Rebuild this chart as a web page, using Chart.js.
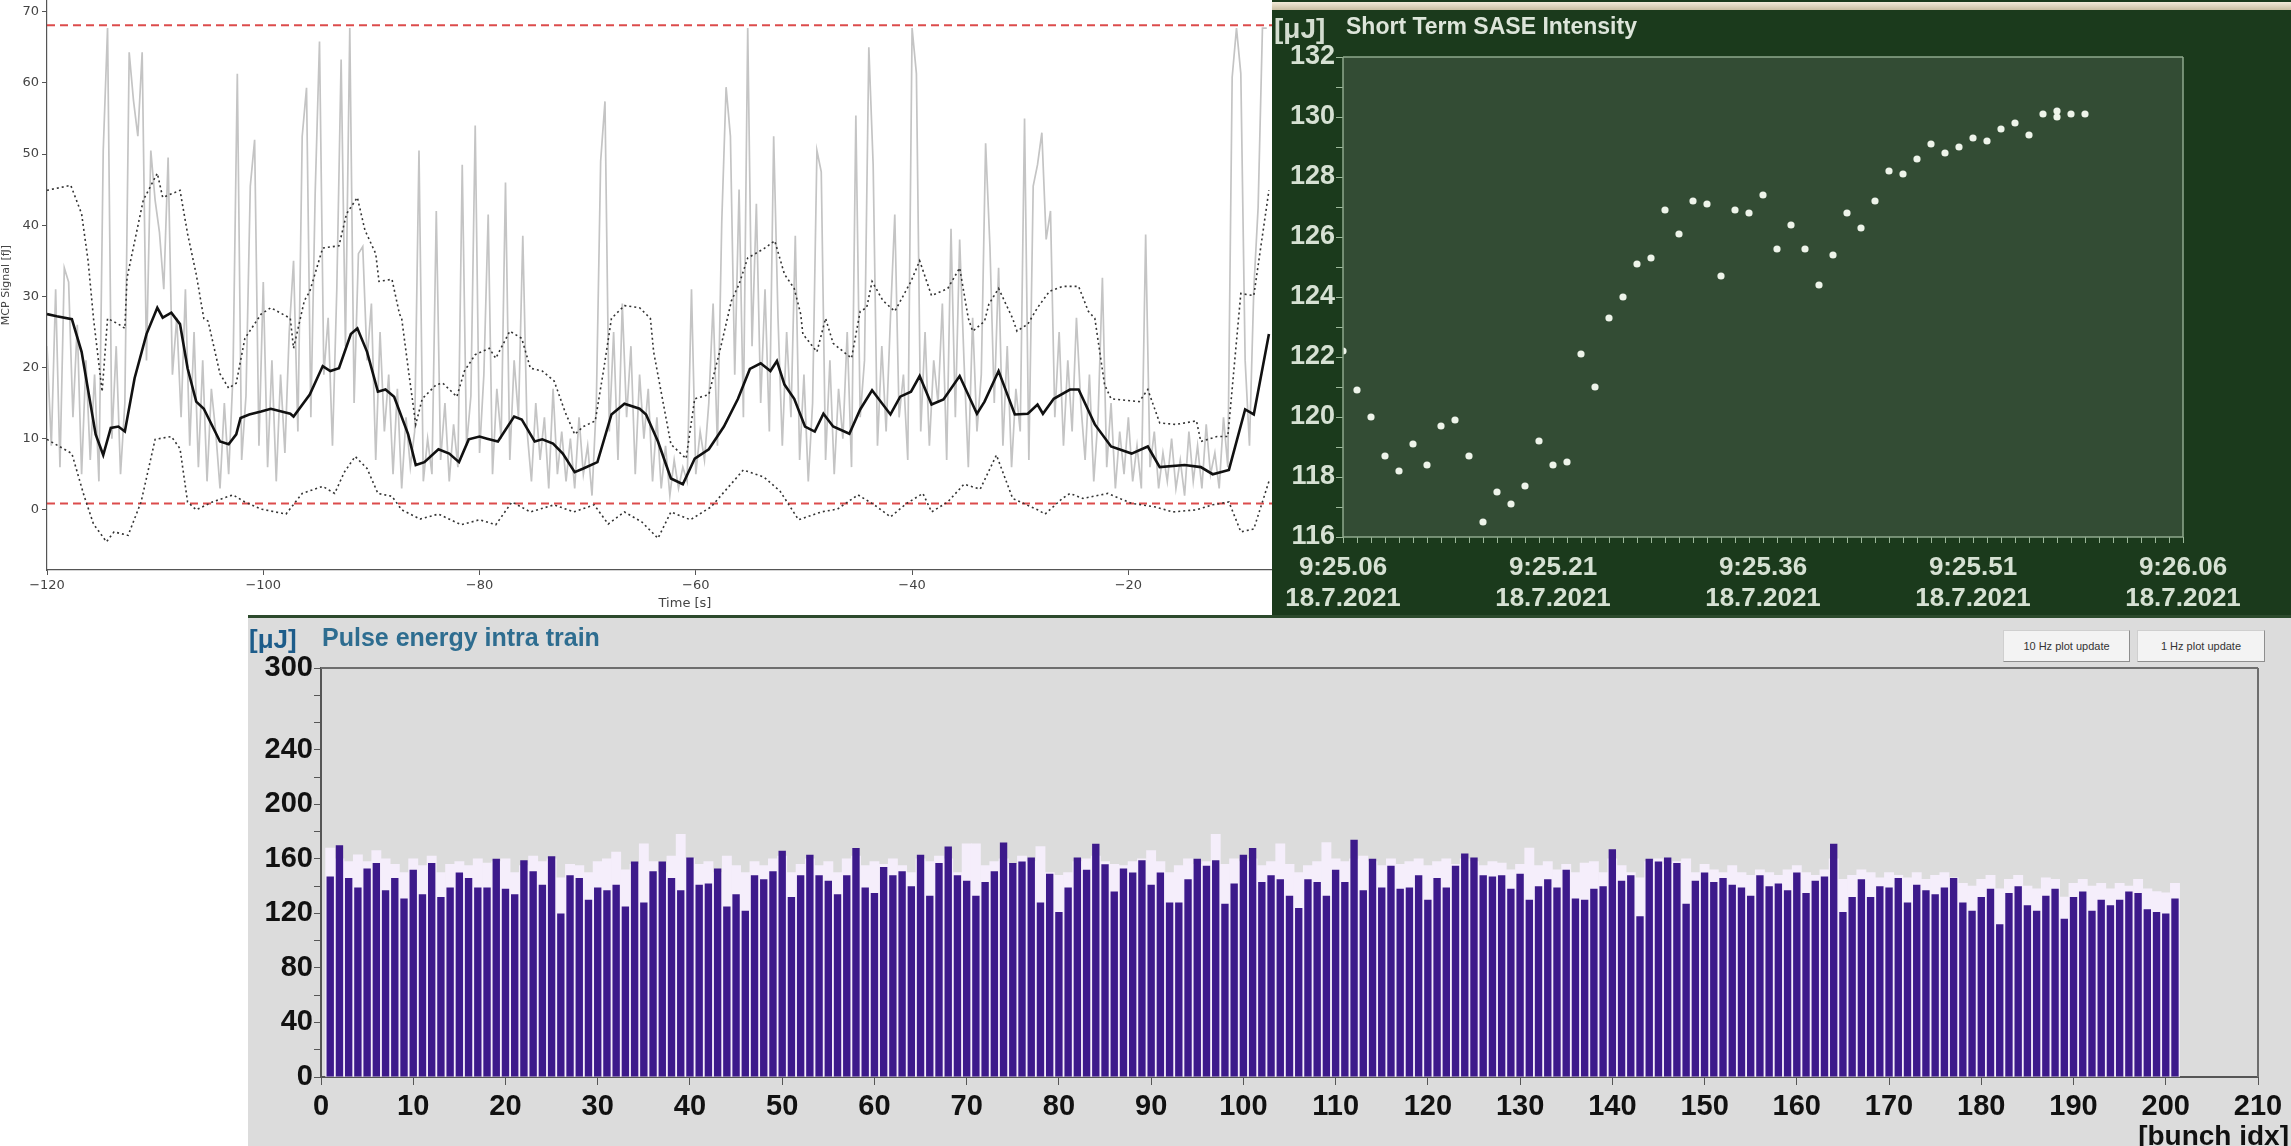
<!DOCTYPE html>
<html>
<head>
<meta charset="utf-8">
<script src="https://cdn.jsdelivr.net/npm/chart.js@4.4.1/dist/chart.umd.min.js"></script>
<style>
  body { margin: 0; width: 2291px; height: 1146px; overflow: hidden; background: #fff; font-family: "Liberation Sans", Arial, sans-serif; }
  #p1 { position: absolute; left: 0; top: 0; width: 1340px; height: 615px; background: #fff; }
  #p2 { position: absolute; left: 1272px; top: 0; width: 1019px; height: 615px; background: #1b3a1c; overflow: hidden; }
  #p2 .strip { position: absolute; left: 0; top: 2px; width: 100%; height: 8px; background: linear-gradient(#f3ead8, #c9bea2); }
  #p3 { position: absolute; left: 248px; top: 615px; width: 2043px; height: 531px; background: #dcdcdc; overflow: hidden; border-top: 3px solid #2c4a2c; box-sizing: border-box; }
  canvas { position: absolute; left: 0; top: 0; }
  .txt { position: absolute; white-space: nowrap; line-height: 1; font-weight: bold; }
  .btn { position: absolute; height: 32px; background: #f3f3f3; border: 1px solid #cfcfcf; border-right-color: #8e8e8e; border-bottom-color: #8e8e8e; font-size: 11px; color: #333; display: flex; align-items: center; justify-content: center; box-sizing: border-box; }
</style>
</head>
<body>
<div id="p1"><canvas id="mcp" width="1340" height="615"></canvas></div>
<div id="p2">
  <div class="strip"></div>
  <canvas id="sase" width="1019" height="615"></canvas>
  <div class="txt" style="left:2px;top:15px;font-size:28px;color:#d3ddd0">[μJ]</div>
  <div class="txt" style="left:74px;top:15px;font-size:23px;color:#dde5da">Short Term SASE Intensity</div>
</div>
<div id="p3">
  <canvas id="pulse" width="2043" height="531" style="top:-3px"></canvas>
  <div class="txt" style="left:1px;top:8px;font-size:26px;color:#1d5c8a">[μJ]</div>
  <div class="txt" style="left:74px;top:7px;font-size:25px;color:#2e6d90">Pulse energy intra train</div>
  <div class="btn" style="left:1755px;top:12px;width:127px">10 Hz plot update</div>
  <div class="btn" style="left:1889px;top:12px;width:128px">1 Hz plot update</div>
  <div class="txt" style="right:2px;top:504px;font-size:28px;color:#111">[bunch idx]</div>
</div>
<script>
// ---- MCP signal (top left) ----
const rawStart = -120;
const rawStep = 0.4;
const rawSignal = [
  23, 9, 31, 6, 34, 32, 13, 26, 5, 21,
  7, 19, 4, 50.5, 67.7, 10, 23, 5, 15, 64.3,
  57.5, 52.5, 64.3, 21, 50.5, 43.5, 39, 31, 49.5, 19,
  27, 13, 31, 9, 25, 6, 21, 4, 17, 11,
  3, 15, 5, 19, 61.3, 7, 16, 45.5, 52, 9,
  32, 6, 21, 4, 19, 8, 25, 35, 11, 52.5,
  59.3, 13, 44.5, 65.8, 19, 27, 9, 31, 63.3, 23,
  67.7, 15, 36, 37, 21, 29, 7, 25, 11, 19,
  5, 17, 3, 13, 6, 11, 50.5, 4, 10, 5,
  42, 7, 15, 4, 12, 6, 48.5, 9, 16, 54,
  8, 19, 41.5, 5, 17, 10, 46, 7, 21, 13,
  38.5, 11, 4, 15, 7, 13, 3, 17, 5, 11,
  4, 10, 3, 13, 5, 9, 2, 15, 49, 57.4,
  11, 25, 7, 29, 13, 23, 5, 19, 10, 17,
  4, 13, 3, 9, 2, 7, 3, 6, 4, 31,
  5, 11, 7, 15, 29, 9, 40.5, 59.4, 52.5, 19,
  45, 13, 67.7, 23, 43, 15, 31, 11, 52.5, 27,
  9, 25, 13, 38.5, 7, 19, 4, 15, 50.5, 47.5,
  7, 21, 5, 17, 10, 25, 6, 55.4, 13, 21,
  65, 48.5, 9, 23, 11, 27, 41.5, 13, 19, 7,
  67.7, 61.3, 11, 25, 9, 21, 15, 29, 7, 39.5,
  13, 38, 21, 6, 27, 11, 19, 51.5, 37, 15,
  34, 9, 23, 6, 17, 11, 55, 7, 45.5, 48.5,
  53, 38, 42, 13, 25, 9, 21, 11, 27, 15,
  7, 19, 4, 13, 32.6, 6, 15, 3, 11, 5,
  13, 4, 9, 3, 38.7, 6, 11, 3, 8, 4,
  10, 3, 7, 2, 11, 4, 9, 3, 12, 5,
  8, 3, 13, 6, 60.8, 67.7, 61.3, 21, 9, 31,
  42.5, 67.7, 67.7
];

const meanLine = [
  [-120,27.5],[-119.1,27.2],[-117.7,26.8],[-116.8,22.2],[-115.5,10.6],[-114.8,7.7],[-114.1,11.5],[-113.4,11.7],
  [-112.8,11.0],[-111.9,18.5],[-110.8,24.7],[-109.8,28.4],[-109.3,27.0],[-108.5,27.7],[-107.7,26.1],[-107,19.9],
  [-106.2,15.2],[-105.5,14.2],[-104,9.6],[-103.2,9.2],[-102.5,10.6],[-102.1,12.9],[-101.3,13.4],[-100.2,13.8],
  [-99.3,14.2],[-97.5,13.5],[-97.2,13.1],[-95.7,16.2],[-94.5,20.2],[-93.8,19.5],[-93,19.9],[-91.9,24.7],
  [-91.3,25.5],[-90.4,22.2],[-89.4,16.6],[-88.7,16.9],[-87.9,15.9],[-86.6,10.6],[-85.9,6.3],[-85.1,6.7],
  [-83.8,8.5],[-82.8,7.9],[-81.9,6.7],[-81,9.9],[-80,10.3],[-79.3,10.0],[-78.3,9.6],[-76.8,13.1],
  [-76.1,12.7],[-74.9,9.6],[-74.2,9.9],[-73.2,9.3],[-72.3,7.9],[-71.2,5.3],[-70.4,5.8],[-69.1,6.7],
  [-67.8,13.4],[-66.6,14.9],[-65.2,14.2],[-64.6,13.4],[-63.5,9.6],[-62.3,4.4],[-61.2,3.6],[-60.1,7.2],
  [-58.8,8.5],[-57.4,11.7],[-56.1,15.6],[-55,19.8],[-54,20.6],[-53.1,19.5],[-52.5,20.9],[-51.8,17.6],
  [-50.9,15.6],[-49.9,11.7],[-49,11.0],[-48.2,13.5],[-47.3,11.7],[-45.8,10.7],[-44.8,14.1],[-43.7,16.8],
  [-42,13.4],[-41.1,15.9],[-40.1,16.6],[-39.3,18.8],[-38.2,14.8],[-37.1,15.5],[-35.6,18.8],[-34,13.5],
  [-33.3,15.2],[-32,19.5],[-30.5,13.4],[-29.3,13.5],[-28.4,14.8],[-27.9,13.5],[-26.9,15.6],[-25.4,16.9],
  [-24.6,16.9],[-23.1,12.0],[-21.6,8.9],[-19.7,7.9],[-18.2,8.9],[-17.1,6.0],[-14.8,6.3],[-13.3,6.0],
  [-12.2,5.0],[-10.7,5.6],[-9.2,14.1],[-8.4,13.4],[-7,24.7]
];

const upperLine = [
  [-120,44.9],[-117.8,45.6],[-116.8,41.6],[-116.2,35.0],[-115.7,26.9],[-114.9,16.6],[-114.4,26.9],[-113.4,26.1],
  [-112.8,25.5],[-112.6,32.6],[-111.1,43.5],[-109.8,47.3],[-109.3,43.9],[-107.7,44.9],[-107,38.8],[-106.2,33.1],
  [-105.5,26.9],[-105.1,26.5],[-104,19.1],[-103.2,17.1],[-102.5,17.8],[-101.7,24.1],[-100.2,27.5],[-99.3,28.4],
  [-97.5,26.9],[-97.2,22.7],[-96.2,29.4],[-95.7,30.7],[-94.5,36.8],[-93,37.1],[-92.3,41.6],[-91.3,43.9],
  [-90.6,39.3],[-89.6,36.0],[-89.3,32.1],[-88.1,32.4],[-87.4,27.5],[-87.2,26.9],[-86.6,19.9],[-85.9,12.0],
  [-85.3,15.6],[-84,17.6],[-83.4,17.8],[-82.1,15.9],[-81.4,19.5],[-80.4,21.8],[-79.1,22.7],[-78.5,21.3],
  [-77.2,25.1],[-76.1,24.1],[-75.3,19.9],[-74.2,19.5],[-73.1,18.1],[-72.1,13.8],[-71.2,10.6],[-70.4,11.7],
  [-69.3,12.5],[-68.5,19.9],[-67.8,26.9],[-66.6,28.7],[-65.2,28.4],[-64.2,26.9],[-63.9,22.2],[-62.3,9.2],
  [-60.9,7.2],[-60.1,15.6],[-58.8,16.2],[-57.8,22.2],[-56.7,29.4],[-56,31.7],[-55.2,35.4],[-53.7,36.7],
  [-52.7,37.8],[-51.8,33.1],[-50.9,31.1],[-50.3,27.5],[-50.1,24.7],[-48.8,22.2],[-48,26.9],[-47.3,23.4],
  [-45.6,21.3],[-44.8,27.9],[-44.2,28.4],[-43.7,32.1],[-42.7,29.4],[-41.6,27.9],[-40.1,32.1],[-39.3,35.0],
  [-38.2,30.1],[-36.7,31.1],[-35.6,34.0],[-34.8,26.9],[-34.4,25.1],[-33.3,26.5],[-32.9,28.9],[-32,31.1],
  [-30.7,26.9],[-30.3,25.1],[-29.3,26.1],[-28.4,28.4],[-27.3,30.7],[-26.1,31.4],[-24.6,31.4],[-23.7,27.9],
  [-23.1,26.9],[-22.2,17.6],[-21.6,15.6],[-19,15.2],[-18.2,16.9],[-17.1,12.2],[-15.6,12.0],[-13.7,12.5],
  [-13.3,9.6],[-11.8,10.3],[-10.8,10.3],[-9.6,30.4],[-8.4,30.1],[-7,44.9]
];

const lowerLine = [
  [-120,9.9],[-117.7,7.9],[-116.6,2.1],[-115.7,-2.0],[-114.5,-4.5],[-113.8,-3.1],[-112.5,-3.6],[-111.3,1.1],
  [-110,9.9],[-108.5,10.3],[-107.7,8.6],[-107,1.1],[-106.2,0],[-104.7,1.1],[-102.8,2.1],[-101.7,1.1],
  [-100.2,0.1],[-97.9,-0.6],[-96.4,2.3],[-94.5,3.3],[-93.4,2.3],[-92.5,5.3],[-91.5,7.5],[-90.4,5.8],
  [-89.4,2.3],[-88.1,1.9],[-87.2,0],[-85.5,-1.3],[-83.8,-0.6],[-81.7,-2.1],[-80,-1.4],[-78.5,-2.1],
  [-77,1.1],[-75.3,-0.3],[-73.1,0.7],[-71.3,-0.3],[-69.4,0.7],[-68.1,-2.0],[-66.6,-0.3],[-65,-1.7],
  [-63.5,-4.0],[-62.3,-0.3],[-60.5,-1.4],[-58.6,0.4],[-57.1,3.0],[-55.6,5.6],[-53.7,4.6],[-52.2,2.6],
  [-50.5,-1.4],[-48.4,-0.3],[-46.9,0.1],[-45,2.1],[-43.5,0.7],[-42,-1.0],[-40.5,0.9],[-39,2.3],
  [-38.2,-0.3],[-36.7,1.1],[-35.2,3.6],[-33.7,2.9],[-32.2,7.7],[-30.7,1.6],[-28.4,0],[-27.7,-0.6],
  [-26.1,1.6],[-25.4,2.3],[-24.2,1.6],[-21.9,2.3],[-19.7,0.9],[-17.5,0.4],[-15.9,-0.3],[-13.7,0],
  [-12.2,0.7],[-10.7,1.1],[-9.6,-3.1],[-8.4,-2.7],[-7,4.0]
];

const limitHigh = 68.1;
const limitLow = 0.9;

// ---- Short Term SASE Intensity (top right) ----
const saseSec = [0,1,2,3,4,5,6,7,8,9,10,11,12,13,14,15,16,17,18,19,20,21,22,23,24,25,26,
  27,28,29,30,31,32,33,34,35,36,37,38,39,40,41,42,43,44,45,46,47,48,49,50,51,51,52,53];
const saseVal = [122.2,120.9,120.0,118.7,118.2,119.1,118.4,119.7,119.9,118.7,116.5,117.5,117.1,
  117.7,119.2,118.4,118.5,122.1,121.0,123.3,124.0,125.1,125.3,126.9,126.1,127.2,127.1,
  124.7,126.9,126.8,127.4,125.6,126.4,125.6,124.4,125.4,126.8,126.3,127.2,128.2,128.1,
  128.6,129.1,128.8,129.0,129.3,129.2,129.6,129.8,129.4,130.1,130.2,130.0,130.1,130.1];
const saseTickLabels = [
  ["9:25.06", "18.7.2021"],
  ["9:25.21", "18.7.2021"],
  ["9:25.36", "18.7.2021"],
  ["9:25.51", "18.7.2021"],
  ["9:26.06", "18.7.2021"]
];

// ---- Pulse energy intra train (bottom) ----
const pulseMain = [
  147,170,146,139,153,157,137,146,131,152,
  134,157,132,139,150,146,139,139,160,138,
  134,159,151,141,162,120,148,146,130,139,
  137,141,125,158,128,151,158,146,137,161,
  141,142,153,125,134,122,148,145,151,166,
  132,148,163,148,144,134,148,168,139,135,
  154,148,151,140,163,133,157,169,148,144,
  133,143,151,172,157,158,161,128,149,121,
  139,161,152,171,156,136,153,150,159,141,
  150,128,128,145,160,155,159,127,142,163,
  168,143,148,145,133,124,145,143,133,152,
  143,174,137,160,139,155,138,139,148,130,
  146,139,155,164,161,148,147,148,138,149,
  130,140,145,139,152,131,130,138,140,167,
  144,148,118,160,158,161,157,127,144,150,
  143,146,141,139,133,148,140,142,137,150,
  135,144,147,171,121,132,145,132,140,139,
  146,128,141,137,134,139,146,128,122,132,
  138,112,135,140,126,122,133,138,116,132,
  136,122,130,126,130,136,135,123,121,120,131
];
const pulseRef = [
  168,160,158,163,158,166,160,156,150,160,
  155,162,150,156,158,155,160,157,158,160,
  150,155,162,158,160,146,156,155,150,158,
  160,165,152,156,171,158,150,162,178,160,
  156,158,150,162,155,150,158,155,160,162,
  150,156,160,155,158,150,160,162,155,158,
  156,160,155,150,160,158,162,160,150,171,
  171,155,158,160,156,162,158,169,150,148,
  150,158,160,162,158,156,155,158,160,166,
  158,150,155,160,156,158,178,156,160,158,
  160,155,158,171,156,150,155,158,172,160,
  158,160,162,158,155,160,156,158,160,155,
  158,160,156,160,158,155,158,157,152,156,
  168,155,158,152,156,150,157,158,150,160,
  155,150,146,158,160,156,158,160,150,156,
  152,150,155,150,148,152,150,148,152,155,
  150,148,152,160,145,148,152,150,146,150,
  148,146,150,145,148,150,146,142,140,145,
  148,138,145,148,140,138,146,145,132,142,
  145,140,142,138,142,140,145,138,136,135,142
];
const pulseYLabels = [0, 40, 80, 120, 160, 200, 240, 300];
const bunchLabels = Array.from({ length: 211 }, (_, i) => String(i));

function toPoints(list) {
  return list.map(p => ({ x: p[0], y: p[1] }));
}

// fixed axis box, and no extra room kept for the end labels
function fixBox(size) {
  return (axis) => {
    if (axis.isHorizontal()) {
      axis.height = size;
      axis.paddingLeft = 0;
      axis.paddingRight = 0;
    } else {
      axis.width = size;
      axis.paddingTop = 0;
      axis.paddingBottom = 0;
    }
  };
}

// fills the plot area and draws a frame round it
const framePlugin = {
  id: "frame",
  beforeDatasetsDraw(chart, args, opts) {
    if (!opts.fill) return;
    let a = chart.chartArea;
    chart.ctx.save();
    chart.ctx.fillStyle = opts.fill;
    chart.ctx.fillRect(a.left, a.top, a.width, a.height);
    chart.ctx.restore();
  },
  afterDraw(chart, args, opts) {
    if (!opts.color) return;
    let a = chart.chartArea, ctx = chart.ctx;
    ctx.save();
    ctx.strokeStyle = opts.color;
    ctx.lineWidth = opts.width || 1;
    ctx.beginPath();
    if (opts.sides.includes("t")) { ctx.moveTo(a.left, a.top); ctx.lineTo(a.right, a.top); }
    if (opts.sides.includes("r")) { ctx.moveTo(a.right, a.top); ctx.lineTo(a.right, a.bottom); }
    if (opts.sides.includes("b")) { ctx.moveTo(a.left, a.bottom); ctx.lineTo(a.right, a.bottom); }
    if (opts.sides.includes("l")) { ctx.moveTo(a.left, a.top); ctx.lineTo(a.left, a.bottom); }
    ctx.stroke();
    ctx.restore();
  }
};

Chart.defaults.font.family = "Liberation Sans";
Chart.defaults.animation = false;

let rawPoints = rawSignal.map((v, i) => ({ x: rawStart + i * rawStep, y: v }));
let mplFont = { family: "DejaVu Sans", size: 13 };

new Chart(document.getElementById("mcp"), {
  type: "line",
  data: {
    datasets: [
      { data: toPoints(meanLine), borderColor: "#111", borderWidth: 2.6 },
      { data: toPoints(upperLine), borderColor: "#333", borderWidth: 1.6, borderDash: [2, 3] },
      { data: toPoints(lowerLine), borderColor: "#333", borderWidth: 1.6, borderDash: [2, 3] },
      { data: [{ x: -120, y: limitHigh }, { x: 0, y: limitHigh }], borderColor: "rgba(214,45,45,0.85)", borderWidth: 2, borderDash: [8, 5] },
      { data: [{ x: -120, y: limitLow }, { x: 0, y: limitLow }], borderColor: "rgba(214,45,45,0.85)", borderWidth: 2, borderDash: [8, 5] },
      { data: rawPoints, borderColor: "#c4c4c4", borderWidth: 1.7 },
    ],
  },
  options: {
    responsive: false,
    devicePixelRatio: 1,
    layout: { padding: { left: 0, top: 0, right: 17, bottom: 0 } },
    elements: { point: { radius: 0 }, line: { tension: 0 } },
    plugins: { legend: { display: false }, tooltip: { enabled: false } },
    scales: {
      x: {
        type: "linear", min: -120, max: -2,
        afterFit: fixBox(45),
        ticks: { stepSize: 20, includeBounds: false, color: "#444", font: mplFont, padding: 3,
          callback: (v) => String(v).replace("-", "\u2212") },
        grid: { drawOnChartArea: false, tickLength: 5, color: "#555" },
        border: { color: "#555", width: 1.2 },
        title: { display: true, text: "Time [s]", color: "#444", font: mplFont, padding: { top: 0, bottom: 4 } },
      },
      y: {
        min: -8.46, max: 71.65,
        afterFit: fixBox(47),
        ticks: { stepSize: 10, includeBounds: false, color: "#444", font: mplFont, padding: 3 },
        grid: { drawOnChartArea: false, tickLength: 5, color: "#555" },
        border: { color: "#555", width: 1.2 },
        title: { display: true, text: "MCP Signal [fJ]", color: "#444", font: { family: "DejaVu Sans", size: 11 }, padding: 0 },
      },
    },
  },
});

let greenText = "#d6e1d3";
let bigBold = { size: 27, weight: "bold" };

new Chart(document.getElementById("sase"), {
  type: "scatter",
  data: {
    datasets: [{
      data: saseSec.map((s, i) => ({ x: s, y: saseVal[i] })),
      backgroundColor: "#eef4ea", borderWidth: 0, pointRadius: 3.6,
    }],
  },
  options: {
    responsive: false,
    devicePixelRatio: 1,
    layout: { padding: { left: 0, top: 57, right: 108, bottom: 0 } },
    plugins: {
      legend: { display: false }, tooltip: { enabled: false },
      frame: { fill: "#334c34", color: "#8fa88c", width: 1.5, sides: "trbl" },
    },
    scales: {
      x: {
        type: "linear", min: 0, max: 60,
        afterFit: fixBox(78),
        ticks: { stepSize: 1, autoSkip: false, maxRotation: 0, includeBounds: false, color: greenText,
          font: { size: 26, weight: "bold" }, padding: 9,
          callback: (v) => (v % 15 === 0 ? saseTickLabels[v / 15] : "") },
        grid: { drawOnChartArea: false, tickLength: 6, color: "#9db89a" },
        border: { display: false },
      },
      y: {
        min: 116, max: 132,
        afterFit: fixBox(71),
        ticks: { stepSize: 1, autoSkip: false, includeBounds: false, color: greenText, font: bigBold, padding: 1,
          callback: (v) => (v % 2 === 0 ? String(v) : "") },
        grid: { drawOnChartArea: false, tickLength: 7, color: "#9db89a" },
        border: { display: false },
      },
    },
  },
  plugins: [framePlugin],
});

new Chart(document.getElementById("pulse"), {
  type: "bar",
  data: {
    labels: bunchLabels,
    datasets: [
      { data: [null].concat(pulseMain), backgroundColor: "#3d1a8b", barPercentage: 0.8, categoryPercentage: 1, grouped: false },
      { data: [null].concat(pulseRef), backgroundColor: "#f5eefb", barPercentage: 1, categoryPercentage: 1, grouped: false },
    ],
  },
  options: {
    responsive: false,
    devicePixelRatio: 1,
    layout: { padding: { left: 0, top: 53, right: 33, bottom: 0 } },
    plugins: {
      legend: { display: false }, tooltip: { enabled: false },
      frame: { color: "#6e6e6e", width: 2, sides: "tr" },
    },
    scales: {
      x: {
        offset: false,
        afterFit: fixBox(69),
        ticks: { autoSkip: false, maxRotation: 0, color: "#111", font: { size: 29, weight: "bold" }, padding: 5,
          callback: (v, i) => (i % 10 === 0 ? bunchLabels[i] : null) },
        grid: { offset: false, drawOnChartArea: false, tickLength: 8, color: "#555" },
        border: { color: "#555", width: 2 },
      },
      y: {
        min: 0, max: 300,
        afterFit: fixBox(73),
        ticks: { stepSize: 20, autoSkip: false, includeBounds: false, color: "#111", font: { size: 29, weight: "bold" }, padding: 1,
          callback: (v) => (pulseYLabels.includes(Math.round(v)) ? String(Math.round(v)) : "") },
        grid: { drawOnChartArea: false, tickLength: 7, color: "#555" },
        border: { color: "#555", width: 2 },
      },
    },
  },
  plugins: [framePlugin],
});
</script>
</body>
</html>
